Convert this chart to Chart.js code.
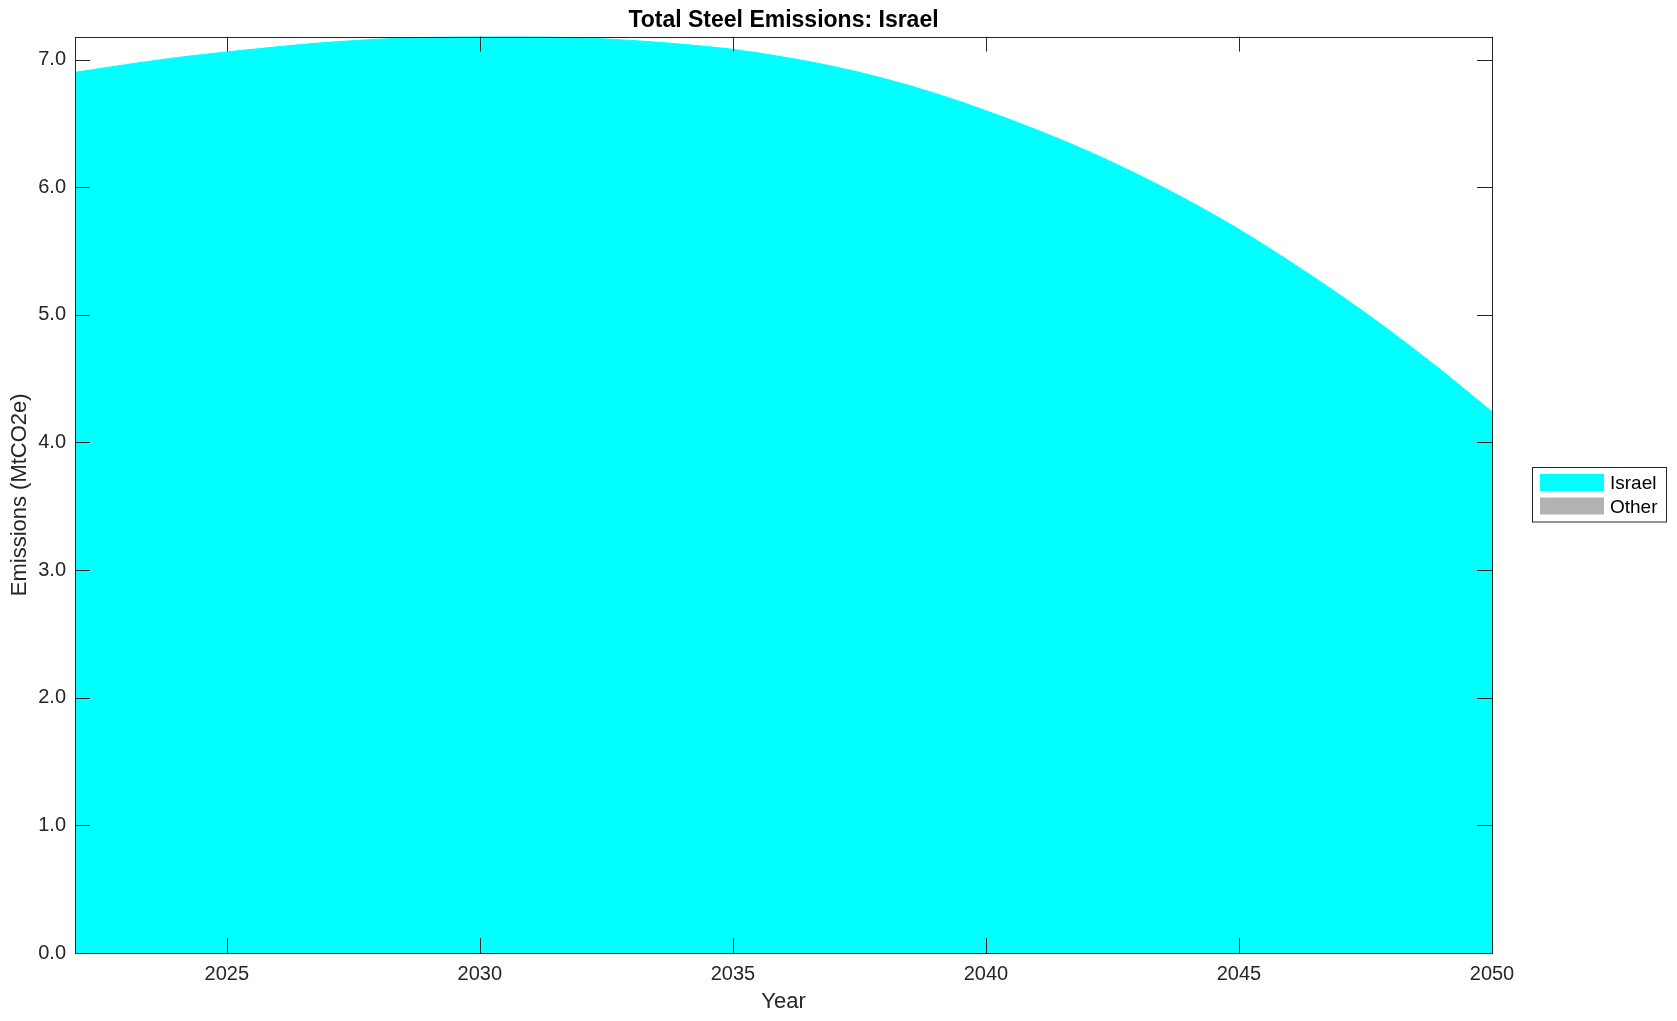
<!DOCTYPE html>
<html>
<head>
<meta charset="utf-8">
<script src="https://cdn.jsdelivr.net/npm/chart.js@4/dist/chart.umd.min.js"></script>
<style>
  html, body { margin: 0; padding: 0; background: #ffffff; }
  canvas { display: block; }
</style>
</head>
<body>
<canvas id="c" width="1677" height="1021"></canvas>
<script>
const years = [2022, 2023, 2024, 2025, 2026, 2027, 2028, 2029, 2030, 2031, 2032, 2033, 2034, 2035, 2036,
               2037, 2038, 2039, 2040, 2041, 2042, 2043, 2044, 2045, 2046, 2047, 2048, 2049, 2050];
const israel = [6.90, 6.96, 7.015, 7.06, 7.10, 7.135, 7.16, 7.175, 7.18, 7.18, 7.17, 7.15, 7.12, 7.08, 7.02,
                6.945, 6.85, 6.735, 6.60, 6.45, 6.285, 6.10, 5.895, 5.67, 5.42, 5.155, 4.87, 4.565, 4.24];
const other = [0, 0, 0, 0, 0, 0, 0, 0, 0, 0, 0, 0, 0, 0, 0,
               0, 0, 0, 0, 0, 0, 0, 0, 0, 0, 0, 0, 0, 0];
const seriesNames = ['Israel', 'Other'];
const seriesColors = ['#00ffff', '#b3b3b3'];
const xTicks = [2025, 2030, 2035, 2040, 2045, 2050];
const yTicks = [0, 1, 2, 3, 4, 5, 6, 7];
const yTickLabels = ['0.0', '1.0', '2.0', '3.0', '4.0', '5.0', '6.0', '7.0'];
const xMin = 2022, xMax = 2050, yMin = 0, yMax = 7.18;
const titleText = 'Total Steel Emissions: Israel';
const xLabel = 'Year';
const yLabel = 'Emissions (MtCO2e)';

const FONT = '"Liberation Sans", Arial, Helvetica, sans-serif';
const AXIS_COLOR = '#262626';

const boxPlugin = {
  id: 'matlabBox',
  afterLayout(chart) {
    const t = chart.titleBlock;
    if (t) {
      t.left = chart.chartArea.left;
      t.right = chart.chartArea.right;
    }
  },
  afterDatasetsDraw(chart) {
    const { ctx, chartArea: a, scales } = chart;
    const tl = 15;
    ctx.save();
    ctx.strokeStyle = AXIS_COLOR;
    ctx.lineWidth = 1;
    ctx.beginPath();
    xTicks.forEach(v => {
      const x = Math.round(scales.x.getPixelForValue(v)) + 0.5;
      ctx.moveTo(x, a.bottom); ctx.lineTo(x, a.bottom - tl);
      ctx.moveTo(x, a.top); ctx.lineTo(x, a.top + tl);
    });
    yTicks.forEach(v => {
      const y = Math.round(scales.y.getPixelForValue(v)) + 0.5;
      ctx.moveTo(a.left, y); ctx.lineTo(a.left + tl, y);
      ctx.moveTo(a.right, y); ctx.lineTo(a.right - tl, y);
    });
    ctx.stroke();
    ctx.strokeRect(Math.round(a.left) + 0.5, Math.round(a.top) + 0.5,
                   Math.round(a.right) - Math.round(a.left), Math.round(a.bottom) - Math.round(a.top));
    ctx.restore();
  }
};

const legendPlugin = {
  id: 'matlabLegend',
  afterDraw(chart) {
    const ctx = chart.ctx;
    const bx = 1532.5, by = 467.5, bw = 134, bh = 54.5;
    ctx.save();
    ctx.fillStyle = '#ffffff';
    ctx.fillRect(bx, by, bw, bh);
    ctx.strokeStyle = AXIS_COLOR;
    ctx.lineWidth = 1;
    ctx.strokeRect(bx, by, bw, bh);
    ctx.font = '19px ' + FONT;
    ctx.textBaseline = 'middle';
    ctx.textAlign = 'left';
    chart.data.datasets.forEach((ds, i) => {
      const sy = 474 + i * 23.5;
      ctx.fillStyle = ds.backgroundColor;
      ctx.fillRect(1540, sy, 64, 17);
      ctx.fillStyle = '#000000';
      ctx.fillText(ds.label, 1610, sy + 10);
    });
    ctx.restore();
  }
};

new Chart(document.getElementById('c'), {
  type: 'line',
  data: {
    datasets: [
      {
        label: seriesNames[0],
        data: years.map((x, i) => ({ x: x, y: israel[i] })),
        fill: 'origin',
        backgroundColor: seriesColors[0],
        borderColor: seriesColors[0],
        borderWidth: 1,
        pointRadius: 0,
        cubicInterpolationMode: 'monotone'
      },
      {
        label: seriesNames[1],
        data: years.map((x, i) => ({ x: x, y: israel[i] + other[i] })),
        fill: '-1',
        backgroundColor: seriesColors[1],
        borderColor: 'rgba(0,0,0,0)',
        borderWidth: 0,
        pointRadius: 0,
        cubicInterpolationMode: 'monotone'
      }
    ]
  },
  options: {
    responsive: false,
    animation: false,
    devicePixelRatio: 1,
    layout: { padding: { left: 0, right: 185, top: 0, bottom: 0 } },
    plugins: {
      legend: { display: false },
      tooltip: { enabled: false },
      title: {
        display: true,
        text: titleText,
        color: '#000000',
        font: { family: FONT, size: 23, weight: 'bold' },
        padding: { top: 7, bottom: 2 }
      }
    },
    scales: {
      x: {
        type: 'linear',
        min: xMin, max: xMax,
        grid: { display: false, drawTicks: false },
        border: { display: false },
        afterBuildTicks: s => { s.ticks = xTicks.map(v => ({ value: v })); },
        afterFit: s => { s.height = 68; },
        ticks: {
          color: AXIS_COLOR,
          font: { family: FONT, size: 20 },
          padding: 9,
          maxRotation: 0,
          autoSkip: false,
          callback: v => String(v)
        },
        title: {
          display: true,
          text: xLabel,
          color: AXIS_COLOR,
          font: { family: FONT, size: 22 },
          padding: { top: 0, bottom: 6 }
        }
      },
      y: {
        type: 'linear',
        min: yMin, max: yMax,
        grid: { display: false, drawTicks: false },
        border: { display: false },
        afterBuildTicks: s => { s.ticks = yTicks.map(v => ({ value: v })); },
        afterFit: s => { s.width = 75; },
        ticks: {
          color: AXIS_COLOR,
          font: { family: FONT, size: 20 },
          padding: 9,
          autoSkip: false,
          callback: v => yTickLabels[yTicks.indexOf(v)]
        },
        title: {
          display: true,
          text: yLabel,
          color: AXIS_COLOR,
          font: { family: FONT, size: 22 },
          padding: { top: 7, bottom: 0 }
        }
      }
    }
  },
  plugins: [boxPlugin, legendPlugin]
});
</script>
</body>
</html>
